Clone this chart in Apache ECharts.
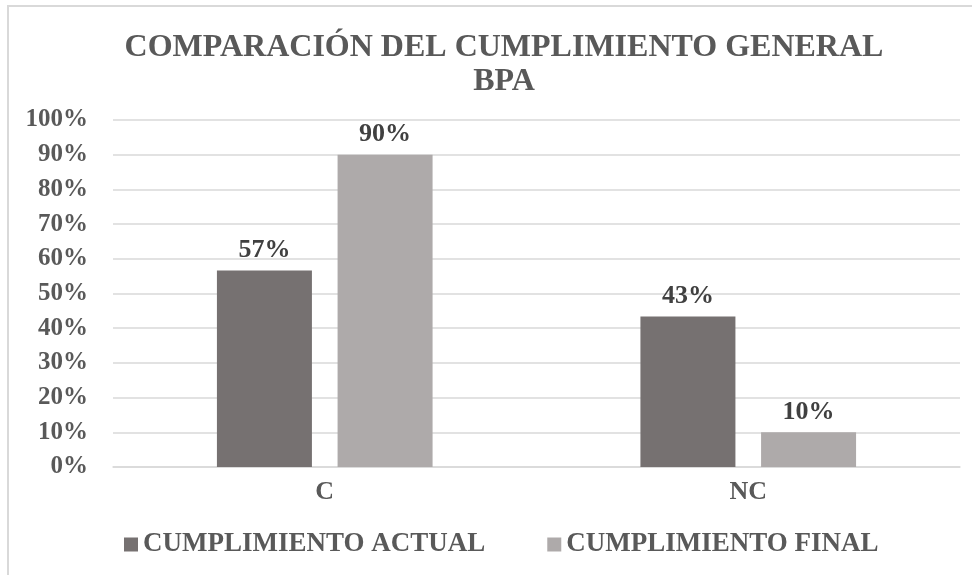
<!DOCTYPE html>
<html>
<head>
<meta charset="utf-8">
<script src="https://cdn.jsdelivr.net/npm/echarts@6/dist/echarts.min.js"></script>
<style>
  html, body { margin: 0; padding: 0; background: #fff; }
  #chart { width: 972px; height: 575px; }
</style>
</head>
<body>
<div id="chart"></div>
<script>
// categorias y valores (fracciones)
var categories = ['C', 'NC']
var seriesNames = ['CUMPLIMIENTO ACTUAL', 'CUMPLIMIENTO FINAL']
var actualValues = [0.566, 0.434]
var finalValues = [0.90, 0.10]

var serif = '"Liberation Serif", "Times New Roman", serif'
var textColor = '#595959'
var labelColor = '#404040'

var chart = echarts.init(document.getElementById('chart'))

var labelStyle = {
  show: true,
  position: 'top',
  distance: 7,
  fontFamily: serif,
  fontWeight: 'bold',
  fontSize: 26,
  color: labelColor,
  formatter: function (p) { return Math.round(p.value * 100) + '%' }
}

var option = {
  animation: false,
  backgroundColor: '#fff',
  title: {
    text: 'COMPARACIÓN DEL CUMPLIMIENTO GENERAL\nBPA',
    left: 499,
    top: 26,
    textAlign: 'center',
    textStyle: {
      fontFamily: serif,
      fontWeight: 'bold',
      fontSize: 32,
      lineHeight: 34,
      color: textColor
    }
  },
  graphic: [
    {
      type: 'rect',
      shape: { x: 8, y: 6, width: 1200, height: 1200 },
      style: { fill: 'none', stroke: '#d9d9d9', lineWidth: 2 },
      silent: true
    }
  ],
  legend: {
    bottom: 12,
    left: 119,
    itemWidth: 14,
    itemHeight: 14,
    itemGap: 62,
    icon: 'rect',
    textStyle: {
      fontFamily: serif,
      fontWeight: 'bold',
      fontSize: 27,
      color: textColor
    }
  },
  grid: { left: 113, right: 12, top: 120, bottom: 108 },
  xAxis: {
    type: 'category',
    data: categories,
    axisTick: { show: false },
    axisLine: { lineStyle: { color: '#d9d9d9', width: 1.5 } },
    axisLabel: {
      margin: 12,
      fontFamily: serif,
      fontWeight: 'bold',
      fontSize: 26,
      color: textColor
    }
  },
  yAxis: {
    type: 'value',
    min: 0,
    max: 1,
    interval: 0.1,
    axisLine: { show: false },
    axisTick: { show: false },
    splitLine: { lineStyle: { color: '#d9d9d9', width: 1.5 } },
    axisLabel: {
      margin: 25,
      fontFamily: serif,
      fontWeight: 'bold',
      fontSize: 25,
      color: textColor,
      formatter: function (v) { return Math.round(v * 100) + '%' }
    }
  },
  series: [
    {
      name: seriesNames[0],
      type: 'bar',
      data: actualValues,
      barWidth: 95,
      barGap: '27%',
      itemStyle: { color: '#767171' },
      label: labelStyle
    },
    {
      name: seriesNames[1],
      type: 'bar',
      data: finalValues,
      barWidth: 95,
      itemStyle: { color: '#AEAAAA' },
      label: labelStyle
    }
  ]
}

chart.setOption(option)
</script>
</body>
</html>
